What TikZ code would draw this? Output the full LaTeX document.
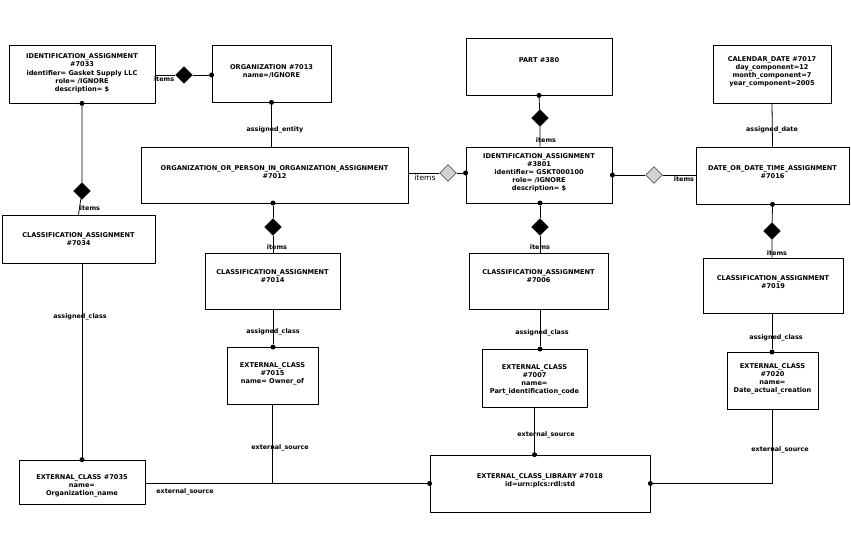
\documentclass[tikz,border=0pt]{standalone}
\usepackage{fontspec}
\setmainfont{DejaVu Sans}
\usetikzlibrary{shapes.geometric}
\begin{document}
\begin{tikzpicture}[x=1pt,y=-1pt,
 box/.style={draw,thick,fill=white,inner sep=0pt,path picture={\fill (path picture bounding box.south east) -- ++(-5pt,0pt) -- ++(5pt,5pt) -- cycle;}},
 txt/.style={anchor=north,align=center,font=\fontsize{6.6}{8}\selectfont\bfseries,inner sep=0pt},
 lbl/.style={font=\fontsize{6.4}{8}\selectfont\bfseries,inner sep=1pt},
 lbn/.style={font=\fontsize{7.5}{8}\selectfont,inner sep=1pt},
 dia/.style={diamond,draw,fill=black,inner sep=0pt,minimum width=17pt,minimum height=17pt},
 gdia/.style={diamond,draw,fill=black!18,inner sep=0pt,minimum width=17pt,minimum height=17pt},
 dot/.style={circle,fill=black,inner sep=0pt,minimum size=5pt},
 con/.style={thick}]
\useasboundingbox (0,0) rectangle (851,551);
% boxes: center, w, h
\newcommand\bx[7]{\node[box,minimum width=#4,minimum height=#5] (#1) at (#2,#3) {};
 \node[txt] (#1t) at ([yshift=-#6]#1.north) {#7};}
\bx{ia33}{82}{74}{146pt}{58pt}{9pt}{IDENTIFICATION\_ASSIGNMENT\\\#7033\\[1pt]identifier= Gasket Supply LLC\\role= /IGNORE\\description= \$}
\bx{org}{271.5}{73.5}{119pt}{57pt}{20pt}{ORGANIZATION \#7013\\name=/IGNORE}
\bx{opoa}{274.5}{175}{267pt}{56pt}{19pt}{ORGANIZATION\_OR\_PERSON\_IN\_ORGANIZATION\_ASSIGNMENT\\\#7012}
\bx{part}{539}{66.5}{146pt}{57pt}{20pt}{PART \#380}
\bx{ia01}{539}{175}{146pt}{56pt}{7pt}{IDENTIFICATION\_ASSIGNMENT\\\#3801\\identifier= GSKT000100\\role= /IGNORE\\description= \$}
\bx{cal}{772}{74}{118pt}{58pt}{12pt}{CALENDAR\_DATE \#7017\\day\_component=12\\month\_component=7\\year\_component=2005}
\bx{ddta}{772.5}{175.5}{153pt}{57pt}{19pt}{DATE\_OR\_DATE\_TIME\_ASSIGNMENT\\\#7016}
\bx{ca34}{78.5}{239}{153pt}{48pt}{18pt}{CLASSIFICATION\_ASSIGNMENT\\\#7034}
\bx{ca14}{272.5}{281}{135pt}{56pt}{17pt}{CLASSIFICATION\_ASSIGNMENT\\\#7014}
\bx{ca06}{538.5}{281}{139pt}{56pt}{17pt}{CLASSIFICATION\_ASSIGNMENT\\\#7006}
\bx{ca19}{773}{285.5}{140pt}{55pt}{18pt}{CLASSIFICATION\_ASSIGNMENT\\\#7019}
\bx{ec15}{272.5}{375.5}{91pt}{57pt}{16pt}{EXTERNAL\_CLASS\\\#7015\\name= Owner\_of}
\bx{ec07}{534.5}{378}{105pt}{58pt}{16pt}{EXTERNAL\_CLASS\\\#7007\\name=\\Part\_identification\_code}
\bx{ec20}{772.5}{380.5}{91pt}{57pt}{12pt}{EXTERNAL\_CLASS\\\#7020\\name=\\Date\_actual\_creation}
\bx{ec35}{82}{482}{126pt}{44pt}{15pt}{EXTERNAL\_CLASS \#7035\\name=\\Organization\_name}
\bx{ecl}{540}{483.5}{220pt}{57pt}{19pt}{EXTERNAL\_CLASS\_LIBRARY \#7018\\id=urn:plcs:rdl:std}
% top-left
\node[dia] (d1) at (184,75) {};
\node[dot] (p1) at (org.west |- d1) {};
\draw[con] (ia33.east |- d1) -- (d1) -- (p1);
\node[lbl,anchor=east] (l1) at (d1.west) [yshift=-4pt] {items};
\node[dot] (p2) at (org.south) {};
\draw[con] (p2) -- (opoa.north -| p2);
\node[lbl] (l2) at (275,130) {assigned\_entity};
\node[dot] (p3) at (ia33.south) {};
\node[dia] (d3) at (82,191) {};
\draw[con] (p3) -- (d3) -- (ca34.north);
\node[lbl] (l3) at (90,208) {items};
\node[dot] (p4) at (273,203) {};
\node[dia] (d4) at (273,227) {};
\draw[con] (p4) -- (d4) -- (ca14.north -| d4);
\node[lbl] (l4) at (277,247) {items};
% middle
\node[gdia] (d5) at (448,173) {};
\node[dot] (p5) at (ia01.west |- d5) {};
\draw[con] (opoa.east |- d5) -- (d5) -- (p5);
\node[lbn] (l5) at (425,178) {items};
\node[dot] (p6) at (part.south) {};
\node[dia] (d6) at (540,118) {};
\draw[con] (p6) -- (d6) -- (ia01.north -| d6);
\node[lbl] (l6) at (546,140) {items};
\node[gdia] (d7) at (654,175) {};
\node[dot] (p7) at (ia01.east |- d7) {};
\draw[con] (p7) -- (d7) -- (ddta.west |- d7);
\node[lbl] (l7) at (684,179) {items};
\draw[con] (cal.south) -- (ddta.north);
\node[lbl] (l8) at (772,130) {assigned\_date};
\node[dot] (p9) at (540,203) {};
\node[dia] (d9) at (540,227) {};
\draw[con] (p9) -- (d9) -- (ca06.north -| d9);
\node[lbl] (l9) at (540,247) {items};
\node[dot] (p10) at (ddta.south) {};
\node[dia] (d10) at (772,231) {};
\draw[con] (p10) -- (d10) -- (ca19.north -| d10);
\node[lbl] (l10) at (777,253) {items};
% assigned_class
\node[dot] (q1) at (ec35.north) {};
\draw[con] (ca34.south -| q1) -- (q1);
\node[lbl] (m1) at (80,317) {assigned\_class};
\node[dot] (q2) at (273,347) {};
\draw[con] (ca14.south -| q2) -- (q2);
\node[lbl] (m2) at (273,332) {assigned\_class};
\node[dot] (q3) at (540,349) {};
\draw[con] (ca06.south -| q3) -- (q3);
\node[lbl] (m3) at (542,333) {assigned\_class};
\node[dot] (q4) at (772,352) {};
\draw[con] (ca19.south -| q4) -- (q4);
\node[lbl] (m4) at (776,338) {assigned\_class};
% external_source
\node[dot] (r1) at (ecl.west) {};
\draw[con] (ec35.east |- r1) -- (r1);
\node[lbl] (n1) at (185,492) {external\_source};
\draw[con] (ec15.south) -- (ec15.south |- r1);
\node[lbl] (n2) at (280,448) {external\_source};
\node[dot] (r3) at (ecl.north -| ec07.south) {};
\draw[con] (ec07.south) -- (r3);
\node[lbl] (n3) at (546,435) {external\_source};
\node[dot] (r4) at (ecl.east) {};
\draw[con] (ec20.south) -- (ec20.south |- r4) -- (r4);
\node[lbl] (n4) at (780,450) {external\_source};
\end{tikzpicture}
\end{document}
